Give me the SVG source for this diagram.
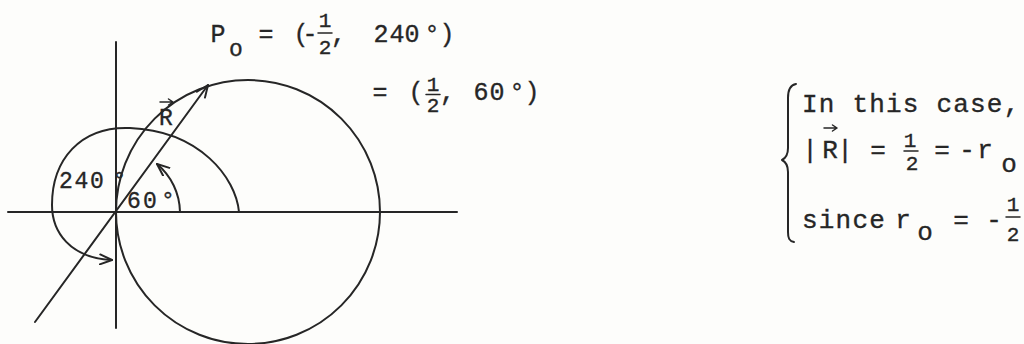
<svg xmlns="http://www.w3.org/2000/svg" width="1024" height="344" viewBox="0 0 1024 344">
<defs>
<style>
.ln{fill:none;stroke:#262626;stroke-width:2;stroke-linecap:round;stroke-linejoin:round}
.thin{fill:none;stroke:#262626;stroke-width:1.5;stroke-linecap:round;stroke-linejoin:round}
.tx{font-family:"Liberation Mono","DejaVu Sans Mono",monospace;fill:#262626;stroke:#262626;stroke-width:0.35}
.f25{font-size:25px}
.f23{font-size:23px}
.f21{font-size:21px}
.f26{font-size:26px}
.rt{font-size:26px;letter-spacing:1.2px}
</style>
<marker id="ah" viewBox="0 0 14 12" refX="13" refY="6" markerWidth="14" markerHeight="12" markerUnits="userSpaceOnUse" orient="auto">
<path d="M1,1 L13,6 L1,11" fill="none" stroke="#262626" stroke-width="2" stroke-linecap="round" stroke-linejoin="round"/>
</marker>
</defs>
<rect width="1024" height="344" fill="#fdfdfb"/>

<g id="axes">
<line class="ln" x1="8" y1="212" x2="457" y2="212"/>
<line class="ln" x1="116" y1="42" x2="116" y2="328"/>
</g>

<g id="big-circle">
<circle class="ln" cx="248" cy="212" r="132"/>
</g>

<g id="connectors">
<path class="ln" d="M35,322 L208,85" marker-end="url(#ah)"/>
<path class="ln" d="M180,212 A64,64 0 0 0 157,164" marker-end="url(#ah)"/>
<path class="ln" d="M239,212 C236,178 200,131 130,128 C80,126 52,160 52,205 C52,232 70,258 112,260" marker-end="url(#ah)"/>
</g>

<g id="label-P">
<text class="tx f25" x="210.5" y="42">P</text>
<text class="tx f23" x="229.1" y="56">o</text>
<text class="tx f25" x="258.5 293.5 302.5" y="42">=(-</text>
<text class="tx f21" x="318.7" y="27">1</text>
<line class="thin" x1="318" y1="33" x2="332" y2="33"/>
<text class="tx f21" x="318.7" y="54">2</text>
<text class="tx f25" x="331 373.5 389.5 404.5 424.5 439.5" y="42">,240°)</text>
</g>

<g id="label-eq2">
<text class="tx f25" x="372.5 408.5" y="100">=(</text>
<text class="tx f21" x="426.7" y="91">1</text>
<line class="thin" x1="426" y1="94.5" x2="440" y2="94.5"/>
<text class="tx f21" x="426.7" y="112">2</text>
<text class="tx f25" x="440 473.5 489.5 509.5 524.5" y="100">,60°)</text>
</g>

<g id="label-R">
<text class="tx f23" x="159.1" y="125">R</text>
<path class="thin" d="M160,102 H173 M168.5,99 L173,102 L168.5,105"/>
</g>

<g id="label-240">
<text class="tx f23" x="59.1 74.6 90.1 112.6" y="188">240°</text>
</g>

<g id="label-60">
<text class="tx f23" x="127.1 143.1 161.1" y="208">60°</text>
</g>

<g id="note">
<path class="ln" d="M796,84 C790,85 788,90 788,98 L788,148 C788,155 786,158 782,160 C786,162 788,165 788,172 L788,232 C788,238 789,241 794,242"/>
<text class="tx rt" x="802" y="112">In this case,</text>
<text class="tx f26" x="802.2 822.2 837.2 870.2" y="158">|R|=</text>
<path class="thin" d="M824,128 H837 M832.5,125 L837,128 L832.5,131"/>
<text class="tx f21" x="903.7" y="147">1</text>
<line class="thin" x1="904" y1="151" x2="918" y2="151"/>
<text class="tx f21" x="905.7" y="170">2</text>
<text class="tx f26" x="934.2 959.2 977.2" y="158">=-r</text>
<text class="tx f26" x="1001.2" y="172">o</text>
<text class="tx rt" x="802" y="228">since</text>
<text class="tx f26" x="895.2" y="228">r</text>
<text class="tx f26" x="917.2" y="240">o</text>
<text class="tx f26" x="953.2 986.2" y="228">=-</text>
<text class="tx f21" x="1006.7" y="211">1</text>
<line class="thin" x1="1006" y1="217" x2="1020" y2="217"/>
<text class="tx f21" x="1006.7" y="241">2</text>
</g>
</svg>
